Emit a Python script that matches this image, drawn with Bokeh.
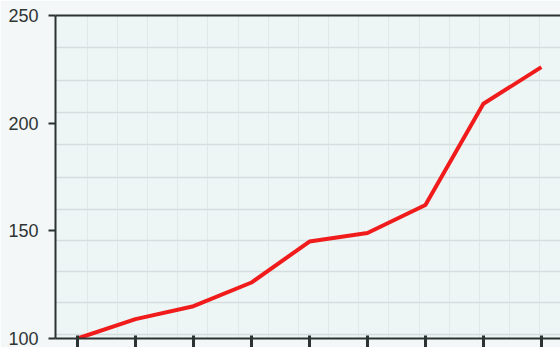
from bokeh.plotting import figure
from bokeh.models import LinearAxis, FixedTicker, Range1d, CustomJSTickFormatter
from bokeh.embed import file_html
from bokeh.resources import INLINE

# data
x_pos = [0, 1, 2, 3, 4, 5, 6, 7, 8]
values = [100, 109, 115, 126, 145, 149, 162, 209, 226]
y_ticks = [100, 150, 200, 250]
grid_y = [235, 220, 205, 190, 175, 160, 145.5, 131, 116.5, 102]
grid_x = [0.17, 0.69, 1.21, 1.73, 2.25, 2.77, 3.29, 3.81, 4.33, 4.85, 5.37, 5.89, 6.41, 6.93, 7.45, 7.97]

axis_col = "#2b3232"

p = figure(width=560, height=347, output_backend="svg", toolbar_location=None,
           x_range=Range1d(-0.38, 8.33), y_range=Range1d(100, 250),
           min_border_left=55, min_border_top=15, min_border_bottom=9, min_border_right=0,
           background_fill_color="#eef5f5", border_fill_color="#f3f7f7")
p.outline_line_color = None

# grids (faint paper lines)
p.ygrid.ticker = FixedTicker(ticks=grid_y)
p.xgrid.ticker = FixedTicker(ticks=grid_x)
p.ygrid.grid_line_color = "#d5dede"
p.ygrid.grid_line_width = 1.5
p.xgrid.grid_line_color = "#e0e8e8"
p.xgrid.grid_line_width = 1

# y axis
p.yaxis.ticker = FixedTicker(ticks=y_ticks)
p.yaxis.axis_line_color = axis_col
p.yaxis.axis_line_width = 2
p.yaxis.major_tick_line_color = axis_col
p.yaxis.major_tick_line_width = 2
p.yaxis.major_tick_out = 7
p.yaxis.major_tick_in = 0
p.yaxis.minor_tick_line_color = None
p.yaxis.major_label_text_font = "Liberation Sans"
p.yaxis.major_label_text_font_size = "18px"
p.yaxis.major_label_text_color = "#2f3434"
p.yaxis.major_label_standoff = 10

# x axis (labels fall below the visible area in the reference)
p.xaxis.ticker = FixedTicker(ticks=x_pos)
p.xaxis.formatter = CustomJSTickFormatter(code="return ''")
p.xaxis.axis_line_color = axis_col
p.xaxis.axis_line_width = 2
p.xaxis.major_tick_line_color = axis_col
p.xaxis.major_tick_line_width = 3
p.xaxis.major_tick_out = 9
p.xaxis.major_tick_in = 3
p.xaxis.minor_tick_line_color = None
p.xaxis.major_label_standoff = 0

# top border line
top = LinearAxis(ticker=FixedTicker(ticks=[]), axis_line_color=axis_col, axis_line_width=2,
                 major_tick_line_color=None, minor_tick_line_color=None,
                 major_label_standoff=0)
p.add_layout(top, "above")

p.line(x_pos, values, line_color="#f01c1c", line_width=4, line_join="round")

open("out.html", "w").write(file_html(p, INLINE))
